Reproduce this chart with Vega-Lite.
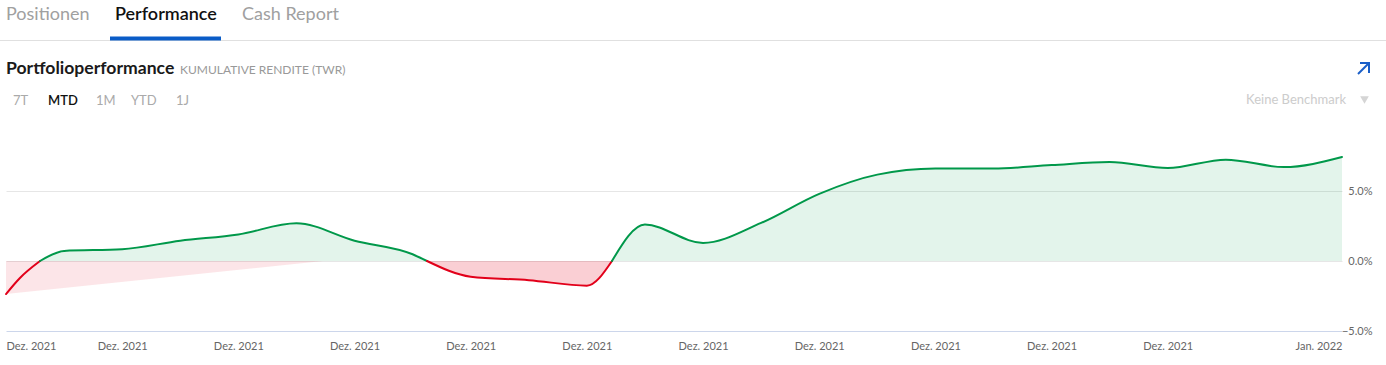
{
  "$schema": "https://vega.github.io/schema/vega-lite/v6.json",
  "width": 1336,
  "height": 210,
  "autosize": {"type": "none"},
  "padding": {"left": 6, "top": 121, "right": 44, "bottom": 34},
  "background": "white",
  "config": {"view": {"stroke": null}, "font": "Lato"},
  "datasets": {
    "perf": [
      {"t": 0, "v": -2.36, "seg": "A", "sign": "neg"},
      {"t": 0.12, "v": -1.21, "seg": "A", "sign": "neg"},
      {"t": 0.293, "v": 0, "seg": "A", "sign": "neg"},
      {"t": 0.293, "v": 0, "seg": "B", "sign": "pos"},
      {"t": 0.5, "v": 0.72, "seg": "B", "sign": "pos"},
      {"t": 1.0, "v": 0.84, "seg": "B", "sign": "pos"},
      {"t": 1.5, "v": 1.45, "seg": "B", "sign": "pos"},
      {"t": 2.0, "v": 1.9, "seg": "B", "sign": "pos"},
      {"t": 2.5, "v": 2.69, "seg": "B", "sign": "pos"},
      {"t": 3.0, "v": 1.45, "seg": "B", "sign": "pos"},
      {"t": 3.5, "v": 0.48, "seg": "B", "sign": "pos"},
      {"t": 3.624, "v": 0, "seg": "B", "sign": "pos"},
      {"t": 3.624, "v": 0, "seg": "C", "sign": "neg"},
      {"t": 4.0, "v": -1.12, "seg": "C", "sign": "neg"},
      {"t": 4.5, "v": -1.37, "seg": "C", "sign": "neg"},
      {"t": 5.0, "v": -1.76, "seg": "C", "sign": "neg"},
      {"t": 5.216, "v": 0, "seg": "C", "sign": "neg"},
      {"t": 5.216, "v": 0, "seg": "D", "sign": "pos"},
      {"t": 5.5, "v": 2.6, "seg": "D", "sign": "pos"},
      {"t": 6.0, "v": 1.29, "seg": "D", "sign": "pos"},
      {"t": 6.5, "v": 2.72, "seg": "D", "sign": "pos"},
      {"t": 7.0, "v": 4.8, "seg": "D", "sign": "pos"},
      {"t": 7.5, "v": 6.17, "seg": "D", "sign": "pos"},
      {"t": 8.0, "v": 6.6, "seg": "D", "sign": "pos"},
      {"t": 8.5, "v": 6.6, "seg": "D", "sign": "pos"},
      {"t": 9.0, "v": 6.85, "seg": "D", "sign": "pos"},
      {"t": 9.5, "v": 7.07, "seg": "D", "sign": "pos"},
      {"t": 10.0, "v": 6.64, "seg": "D", "sign": "pos"},
      {"t": 10.5, "v": 7.24, "seg": "D", "sign": "pos"},
      {"t": 11.0, "v": 6.71, "seg": "D", "sign": "pos"},
      {"t": 11.5, "v": 7.43, "seg": "D", "sign": "pos"}
    ],
    "tri": [
      {"t": 0, "v": -2.36},
      {"t": 2.73, "v": 0}
    ]
  },
  "layer": [
    {
      "data": {"name": "tri"},
      "mark": {"type": "area", "color": "#e2001a", "opacity": 0.1},
      "encoding": {
        "x": {"field": "t", "type": "quantitative"},
        "y": {"field": "v", "type": "quantitative"},
        "y2": {"datum": 0}
      }
    },
    {
      "data": {"name": "perf"},
      "transform": [{"filter": "datum.sign == 'pos'"}],
      "mark": {"type": "area", "color": "#00984a", "opacity": 0.11, "interpolate": "monotone"},
      "encoding": {
        "x": {"field": "t", "type": "quantitative"},
        "y": {"field": "v", "type": "quantitative"},
        "y2": {"datum": 0},
        "detail": {"field": "seg"}
      }
    },
    {
      "data": {"name": "perf"},
      "transform": [{"filter": "datum.seg == 'C'"}],
      "mark": {"type": "area", "color": "#e2001a", "opacity": 0.19, "interpolate": "monotone"},
      "encoding": {
        "x": {"field": "t", "type": "quantitative"},
        "y": {"field": "v", "type": "quantitative"},
        "y2": {"datum": 0}
      }
    },
    {
      "data": {"name": "perf"},
      "mark": {"type": "line", "strokeWidth": 2, "interpolate": "monotone", "strokeCap": "round"},
      "encoding": {
        "x": {
          "field": "t", "type": "quantitative",
          "scale": {"domain": [0, 11.5], "nice": false, "zero": false},
          "axis": {
            "title": null,
            "values": [0, 1, 2, 3, 4, 5, 6, 7, 8, 9, 10, 11.5],
            "labelExpr": "datum.value >= 11.5 ? 'Jan. 2022' : 'Dez. 2021'",
            "labelFlush": true,
            "labelColor": "#666666",
            "labelFontSize": 11,
            "labelFont": "Lato",
            "labelPadding": 9,
            "ticks": false,
            "grid": false,
            "domain": false
          }
        },
        "y": {
          "field": "v", "type": "quantitative",
          "scale": {"domain": [-5, 10], "nice": false},
          "axis": {
            "title": null,
            "orient": "right",
            "values": [-5, 0, 5],
            "labelExpr": "format(datum.value, '.1f') + '%'",
            "labelAlign": "right",
            "labelBaseline": "middle",
            "labelPadding": 30,
            "labelColor": "#666666",
            "labelFontSize": 11,
            "labelFont": "Lato",
            "ticks": false,
            "domain": false,
            "grid": true,
            "gridColor": {"condition": {"test": "datum.value == -5", "value": "#ccd6eb"}, "value": "#e6e6e6"},
            "gridWidth": 1
          }
        },
        "color": {
          "field": "sign", "type": "nominal",
          "scale": {"domain": ["pos", "neg"], "range": ["#00984a", "#e2001a"]},
          "legend": null
        },
        "detail": {"field": "seg"}
      }
    },
    {
      "data": {"values": [{}]},
      "mark": {"type": "rule", "color": "#e0e0e0", "strokeWidth": 1},
      "encoding": {"x": {"value": -6}, "x2": {"value": 1380}, "y": {"value": -80.5}}
    },
    {
      "data": {"values": [{}]},
      "mark": {"type": "rule", "color": "#0a5cc7", "strokeWidth": 4},
      "encoding": {"x": {"value": 104}, "x2": {"value": 215}, "y": {"value": -82.5}}
    },
    {
      "data": {"values": [{"label": "Positionen"}]},
      "mark": {"type": "text", "align": "left", "baseline": "alphabetic", "fontSize": 18, "font": "Lato", "color": "#a0a0a0"},
      "encoding": {"text": {"field": "label"}, "x": {"value": 0}, "y": {"value": -101}}
    },
    {
      "data": {"values": [{"label": "Performance"}]},
      "mark": {"type": "text", "align": "left", "baseline": "alphabetic", "fontSize": 18, "font": "Lato", "fontWeight": 600, "color": "#111111"},
      "encoding": {"text": {"field": "label"}, "x": {"value": 109}, "y": {"value": -101}}
    },
    {
      "data": {"values": [{"label": "Cash Report"}]},
      "mark": {"type": "text", "align": "left", "baseline": "alphabetic", "fontSize": 18, "font": "Lato", "color": "#a0a0a0"},
      "encoding": {"text": {"field": "label"}, "x": {"value": 236}, "y": {"value": -101}}
    },
    {
      "data": {"values": [{"label": "Portfolioperformance"}]},
      "mark": {"type": "text", "align": "left", "baseline": "alphabetic", "fontSize": 17.6, "fontWeight": "bold", "font": "Lato", "color": "#1a1a1a"},
      "encoding": {"text": {"field": "label"}, "x": {"value": 0}, "y": {"value": -47}}
    },
    {
      "data": {"values": [{"sub": "KUMULATIVE RENDITE (TWR)"}]},
      "mark": {"type": "text", "align": "left", "baseline": "alphabetic", "fontSize": 12, "font": "Lato", "color": "#999999"},
      "encoding": {"text": {"field": "sub"}, "x": {"value": 174}, "y": {"value": -47}}
    },
    {
      "data": {"values": [{"label": "7T"}]},
      "mark": {"type": "text", "align": "left", "baseline": "alphabetic", "fontSize": 13, "font": "Lato", "color": "#aaaaaa"},
      "encoding": {"text": {"field": "label"}, "x": {"value": 7}, "y": {"value": -16}}
    },
    {
      "data": {"values": [{"label": "MTD"}]},
      "mark": {"type": "text", "align": "left", "baseline": "alphabetic", "fontSize": 13, "font": "Lato", "fontWeight": 600, "color": "#111111"},
      "encoding": {"text": {"field": "label"}, "x": {"value": 42}, "y": {"value": -16}}
    },
    {
      "data": {"values": [{"label": "1M"}]},
      "mark": {"type": "text", "align": "left", "baseline": "alphabetic", "fontSize": 13, "font": "Lato", "color": "#aaaaaa"},
      "encoding": {"text": {"field": "label"}, "x": {"value": 90}, "y": {"value": -16}}
    },
    {
      "data": {"values": [{"label": "YTD"}]},
      "mark": {"type": "text", "align": "left", "baseline": "alphabetic", "fontSize": 13, "font": "Lato", "color": "#aaaaaa"},
      "encoding": {"text": {"field": "label"}, "x": {"value": 125}, "y": {"value": -16}}
    },
    {
      "data": {"values": [{"label": "1J"}]},
      "mark": {"type": "text", "align": "left", "baseline": "alphabetic", "fontSize": 13, "font": "Lato", "color": "#aaaaaa"},
      "encoding": {"text": {"field": "label"}, "x": {"value": 170}, "y": {"value": -16}}
    },
    {
      "data": {"values": [{"label": "Keine Benchmark"}]},
      "mark": {"type": "text", "align": "right", "baseline": "alphabetic", "fontSize": 13, "font": "Lato", "color": "#cccccc"},
      "encoding": {"text": {"field": "label"}, "x": {"value": 1340}, "y": {"value": -17}}
    },
    {
      "data": {"values": [{}]},
      "mark": {"type": "point", "shape": "triangle-down", "filled": true, "color": "#d5d5d5", "size": 75, "opacity": 1},
      "encoding": {"x": {"value": 1358.5}, "y": {"value": -21}}
    },
    {
      "data": {"values": [{}]},
      "mark": {"type": "rule", "color": "#1a5fc8", "strokeWidth": 2},
      "encoding": {"x": {"value": 1352}, "x2": {"value": 1363}, "y": {"value": -47}, "y2": {"value": -58}}
    },
    {
      "data": {"values": [{}]},
      "mark": {"type": "rule", "color": "#1a5fc8", "strokeWidth": 2},
      "encoding": {"x": {"value": 1354}, "x2": {"value": 1364}, "y": {"value": -58}}
    },
    {
      "data": {"values": [{}]},
      "mark": {"type": "rule", "color": "#1a5fc8", "strokeWidth": 2},
      "encoding": {"x": {"value": 1363}, "y": {"value": -59}, "y2": {"value": -48}}
    }
  ]
}
